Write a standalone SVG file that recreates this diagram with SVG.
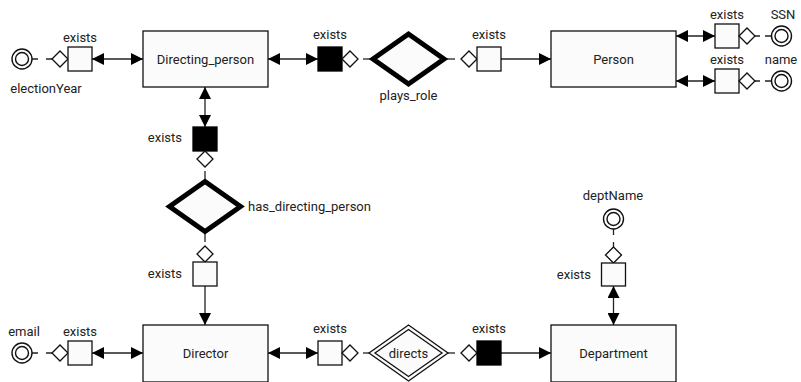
<svg xmlns="http://www.w3.org/2000/svg" width="801" height="382" viewBox="0 0 801 382">
  <style>
    text { font-family: Roboto, "Liberation Sans", sans-serif; font-size: 13px; fill: #222; }
    .mid { text-anchor: middle; }
    .end { text-anchor: end; }
    .entity { fill: #fbfbfb; stroke: #111; stroke-width: 1.3; }
    .exists { fill: #fbfbfb; stroke: #111; stroke-width: 1.3; }
    .exists.solid { fill: #000; stroke: #000; }
    .mand { fill: #fff; stroke: #111; stroke-width: 1.3; }
    .rel { fill: #fbfbfb; stroke: #000; stroke-width: 5; stroke-linejoin: miter; }
    .weak { fill: #fbfbfb; stroke: #111; stroke-width: 1.3; }
    .attr { fill: #fff; stroke: #111; stroke-width: 1.4; }
    .link { fill: none; stroke: #222; stroke-width: 1.3; }
  </style>
  <defs>
    <marker id="head" markerUnits="userSpaceOnUse" markerWidth="12" markerHeight="12" refX="12" refY="6" orient="auto-start-reverse">
      <path d="M0,0 L12,6 L0,12 Z" fill="#000"/>
    </marker>
  </defs>

  <!-- connectors -->
  <g id="connectors" class="link">
    <!-- electionYear -->
    <path d="M32,59 H38 M46,59 H52"/>
    <path d="M92,59 H143" marker-start="url(#head)" marker-end="url(#head)"/>
    <!-- Directing_person - plays_role - Person -->
    <path d="M268,59 H318" marker-start="url(#head)" marker-end="url(#head)"/>
    <path d="M363,59 H370"/>
    <path d="M447,59 H455"/>
    <path d="M501,59 H551" marker-end="url(#head)"/>
    <!-- Person attributes -->
    <path d="M676,36 H715" marker-start="url(#head)" marker-end="url(#head)"/>
    <path d="M755,36 H760 M765,36 H771"/>
    <path d="M676,81 H715" marker-start="url(#head)" marker-end="url(#head)"/>
    <path d="M755,81 H760 M765,81 H771"/>
    <!-- Directing_person - has_directing_person - Director -->
    <path d="M205,87 V127" marker-start="url(#head)" marker-end="url(#head)"/>
    <path d="M205,171 V179"/>
    <path d="M205,234 V242"/>
    <path d="M205,286 V325" marker-end="url(#head)"/>
    <!-- email -->
    <path d="M32,353 H38 M46,353 H52"/>
    <path d="M92,353 H143" marker-start="url(#head)" marker-end="url(#head)"/>
    <!-- Director - directs - Department -->
    <path d="M268,353 H318" marker-start="url(#head)" marker-end="url(#head)"/>
    <path d="M363,353 H370"/>
    <path d="M447,353 H455"/>
    <path d="M501,353 H551" marker-end="url(#head)"/>
    <!-- deptName -->
    <path d="M613.5,229 V235 M613.5,242 V247"/>
    <path d="M613.5,286 V325" marker-start="url(#head)" marker-end="url(#head)"/>
  </g>

  <!-- entities -->
  <g id="Directing_person">
    <rect class="entity" x="143" y="31" width="125" height="56"/>
    <text class="mid" x="205.5" y="63.5">Directing_person</text>
  </g>
  <g id="Person">
    <rect class="entity" x="551" y="31" width="125" height="56"/>
    <text class="mid" x="613.5" y="63.5">Person</text>
  </g>
  <g id="Director">
    <rect class="entity" x="143" y="325" width="125" height="57"/>
    <text class="mid" x="205.5" y="357.5">Director</text>
  </g>
  <g id="Department">
    <rect class="entity" x="551" y="325" width="125" height="57"/>
    <text class="mid" x="613.5" y="357.5">Department</text>
  </g>

  <!-- relationships -->
  <g id="plays_role">
    <polygon class="rel" points="373,59 408.5,34 444,59 408.5,84"/>
    <text class="mid" x="408.5" y="100">plays_role</text>
  </g>
  <g id="has_directing_person">
    <polygon class="rel" points="169.5,206.5 205,181.5 240.5,206.5 205,231.5"/>
    <text x="248" y="211">has_directing_person</text>
  </g>
  <g id="directs">
    <polygon class="weak" points="369,353 408.5,325 448,353 408.5,381"/>
    <polygon class="weak" points="375,353 408.5,329.5 442,353 408.5,376.5"/>
    <text class="mid" x="408.5" y="357.5">directs</text>
  </g>

  <!-- attributes -->
  <g id="electionYear">
    <circle class="attr" cx="22" cy="59" r="10"/>
    <circle class="attr" cx="22" cy="59" r="6.5"/>
    <text class="mid" x="46" y="92.5">electionYear</text>
  </g>
  <g id="SSN">
    <circle class="attr" cx="781.5" cy="36" r="10"/>
    <circle class="attr" cx="781.5" cy="36" r="6.5"/>
    <text class="mid" x="783" y="19">SSN</text>
  </g>
  <g id="name">
    <circle class="attr" cx="781.5" cy="81" r="10"/>
    <circle class="attr" cx="781.5" cy="81" r="6.5"/>
    <text class="mid" x="781" y="64">name</text>
  </g>
  <g id="email">
    <circle class="attr" cx="22" cy="353" r="10"/>
    <circle class="attr" cx="22" cy="353" r="6.5"/>
    <text class="mid" x="24" y="336">email</text>
  </g>
  <g id="deptName">
    <circle class="attr" cx="613.5" cy="219" r="10"/>
    <circle class="attr" cx="613.5" cy="219" r="6.5"/>
    <text class="mid" x="613" y="200">deptName</text>
  </g>

  <!-- existence constraints with mandatory markers -->
  <g id="exists_electionYear">
    <polygon class="mand" points="52,59 60,51 68,59 60,67"/>
    <rect class="exists" x="68" y="47" width="24" height="24"/>
    <text class="mid" x="80" y="42">exists</text>
  </g>
  <g id="exists_plays_role_dp">
    <rect class="exists solid" x="318" y="47" width="24" height="24"/>
    <polygon class="mand" points="342,59 350,51 358,59 350,67"/>
    <text class="mid" x="330" y="38.5">exists</text>
  </g>
  <g id="exists_plays_role_person">
    <polygon class="mand" points="461,59 469,51 477,59 469,67"/>
    <rect class="exists" x="477" y="47" width="24" height="24"/>
    <text class="mid" x="489" y="38.5">exists</text>
  </g>
  <g id="exists_SSN">
    <rect class="exists" x="715" y="24" width="24" height="24"/>
    <polygon class="mand" points="739,36 747,28 755,36 747,44"/>
    <text class="mid" x="727" y="19">exists</text>
  </g>
  <g id="exists_name">
    <rect class="exists" x="715" y="69" width="24" height="24"/>
    <polygon class="mand" points="739,81 747,73 755,81 747,89"/>
    <text class="mid" x="727" y="64">exists</text>
  </g>
  <g id="exists_hdp_dp">
    <rect class="exists solid" x="193" y="127" width="24" height="24"/>
    <polygon class="mand" points="205,151 213,159 205,167 197,159"/>
    <text class="end" x="182" y="142">exists</text>
  </g>
  <g id="exists_hdp_director">
    <polygon class="mand" points="205,246 213,254 205,262 197,254"/>
    <rect class="exists" x="193" y="262" width="24" height="24"/>
    <text class="end" x="182" y="278">exists</text>
  </g>
  <g id="exists_email">
    <polygon class="mand" points="52,353 60,345 68,353 60,361"/>
    <rect class="exists" x="68" y="341" width="24" height="24"/>
    <text class="mid" x="80" y="336">exists</text>
  </g>
  <g id="exists_directs_director">
    <rect class="exists" x="318" y="341" width="24" height="24"/>
    <polygon class="mand" points="342,353 350,345 358,353 350,361"/>
    <text class="mid" x="330" y="333">exists</text>
  </g>
  <g id="exists_directs_department">
    <polygon class="mand" points="461,353 469,345 477,353 469,361"/>
    <rect class="exists solid" x="477" y="341" width="24" height="24"/>
    <text class="mid" x="489" y="333">exists</text>
  </g>
  <g id="exists_deptName">
    <polygon class="mand" points="613.5,247 621.5,255 613.5,263 605.5,255"/>
    <rect class="exists" x="601.5" y="263" width="24" height="23"/>
    <text class="end" x="591" y="279">exists</text>
  </g>
</svg>
